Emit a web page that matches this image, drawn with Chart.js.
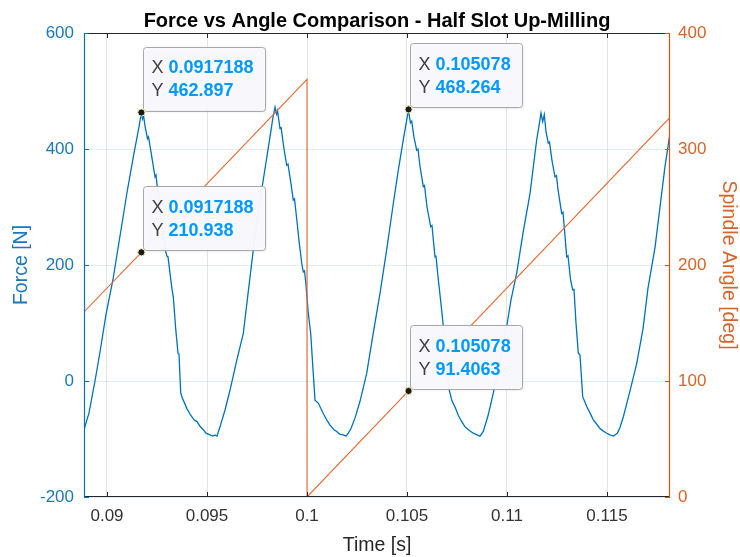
<!DOCTYPE html>
<html>
<head>
<meta charset="utf-8">
<script src="https://cdn.jsdelivr.net/npm/chart.js@4"></script>
<style>
  html, body { margin: 0; padding: 0; background: #ffffff; }
  #wrap { width: 740px; height: 557px; position: relative; }
</style>
</head>
<body>
<div id="wrap"><canvas id="c" width="740" height="557"></canvas></div>
<script>
// Cutting force sampled over time [s, N]
const timeS = [
  0.08885, 0.08910, 0.08940, 0.08965, 0.08995, 0.09030, 0.09065, 0.09100, 0.09135, 0.09160,
  0.0917188, 0.091775, 0.091825, 0.0919, 0.092025, 0.092075, 0.0922, 0.0924, 0.09245, 0.09265,
  0.092935, 0.093, 0.09305, 0.09325, 0.093315, 0.093435, 0.09355, 0.0936, 0.093685, 0.09375,
  0.09385, 0.094, 0.094185, 0.09435, 0.0945, 0.09465, 0.094815, 0.09495, 0.09515, 0.0953,
  0.0954, 0.0955, 0.09565, 0.0959, 0.09615, 0.09645, 0.096815, 0.09705, 0.097315, 0.09755,
  0.097815, 0.09815, 0.0983, 0.0984, 0.098475, 0.098525, 0.09865, 0.0987, 0.09885, 0.098985,
  0.09905, 0.0992, 0.099315, 0.099375, 0.0995, 0.099615, 0.09975, 0.099815, 0.099875, 0.09995,
  0.100065, 0.100185, 0.1003, 0.1004, 0.100565, 0.1007, 0.100815, 0.101, 0.10115, 0.10135,
  0.101485, 0.10165, 0.101815, 0.10195, 0.102065, 0.1022, 0.1024, 0.10265, 0.102985, 0.1033,
  0.10365, 0.104, 0.104315, 0.10455, 0.104815, 0.105078, 0.105125, 0.105175, 0.105235, 0.10535,
  0.105485, 0.10555, 0.10565, 0.105815, 0.105875, 0.106, 0.106185, 0.10625, 0.106325, 0.1064,
  0.10645, 0.10655, 0.106735, 0.106815, 0.1069, 0.107, 0.107115, 0.107235, 0.1074, 0.107565,
  0.1077, 0.1079, 0.1081, 0.108315, 0.1085, 0.10865, 0.108815, 0.10905, 0.109315, 0.10965,
  0.109985, 0.1102, 0.110485, 0.1108, 0.11115, 0.111485, 0.1116, 0.1117, 0.111785, 0.111865,
  0.11195, 0.112065, 0.112125, 0.11225, 0.1124, 0.112475, 0.11255, 0.112735, 0.1128, 0.1129,
  0.112985, 0.11305, 0.113175, 0.113285, 0.11335, 0.11345, 0.113565, 0.11365, 0.113785, 0.113985,
  0.11415, 0.114315, 0.1145, 0.11465, 0.1148, 0.114985, 0.11515, 0.115315, 0.115515, 0.11565,
  0.115815, 0.11615, 0.116485, 0.1168, 0.11705, 0.1174, 0.11765, 0.1179, 0.11815
];
const forceN = [
  -84, -55, 0, 50, 115, 175, 250, 325, 393, 438,
  462.897, 452, 458, 440, 418, 421, 395, 352, 355, 290,
  223, 215, 214, 158, 145, 90, 48, 46, -20, -28,
  -36, -48, -59, -67, -70, -78, -84, -90, -93, -95,
  -93, -95, -79, -50, -16, 30, 82, 150, 226, 290,
  347, 421, 455, 472, 460, 466, 435, 438, 400, 372,
  374, 340, 312, 314, 275, 237, 200, 188, 190, 165,
  117, 82, 20, -33, -38, -48, -56, -68, -76, -84,
  -87, -92, -93, -95, -90, -82, -64, -35, 13, 80,
  151, 230, 306, 360, 416, 468.264, 455, 445, 448, 420,
  398, 400, 370, 335, 337, 300, 266, 268, 240, 214,
  215, 180, 122, 94, 60, 20, -16, -33, -45, -59,
  -68, -79, -85, -90, -93, -95, -87, -60, -21, 35,
  94, 140, 186, 255, 323, 416, 440, 462, 447, 459,
  430, 410, 412, 380, 352, 354, 330, 289, 291, 250,
  214, 216, 175, 157, 158, 100, 48, 45, -27, -44,
  -55, -67, -75, -82, -86, -90, -93, -95, -90, -80,
  -62, -17, 30, 90, 160, 230, 300, 370, 427
];

// Spindle angle [s, deg] (ramps up, wraps at 360)
const angleTime = [0.08885, 0.0917188, 0.1, 0.1, 0.105078, 0.11815];
const angleDeg  = [159.5, 210.938, 360, 0, 91.4063, 327.3];

// Axis ticks
const xTicks = [0.09, 0.095, 0.1, 0.105, 0.11, 0.115];
const forceTicks = [-200, 0, 200, 400, 600];
const angleTicks = [0, 100, 200, 300, 400];

// Data tips: time, value, axis
const tipTime  = [0.0917188, 0.0917188, 0.105078, 0.105078];
const tipValue = [462.897, 210.938, 468.264, 91.4063];
const tipAxis  = ['y', 'y2', 'y', 'y2'];

const BLUE = '#0072BD';
const BLUE_TXT = '#1a7ab8';
const ORANGE = '#D95319';
const ORANGE_TXT = '#d8642a';
const DARK = '#262626';
const FONT = "'Liberation Sans', Arial, Helvetica, sans-serif";

const forceData = timeS.map((t, i) => ({ x: t, y: forceN[i] }));
const angleData = angleTime.map((t, i) => ({ x: t, y: angleDeg[i] }));

const frame = {
  id: 'frame',
  afterDraw(chart) {
    const ctx = chart.ctx, a = chart.chartArea;
    const sx = chart.scales.x, sy = chart.scales.y, sy2 = chart.scales.y2;
    const L = 5;
    ctx.save();
    ctx.lineWidth = 1;
    // top and bottom box edges
    ctx.strokeStyle = DARK;
    ctx.beginPath();
    ctx.moveTo(a.left, a.top + 0.5); ctx.lineTo(a.right, a.top + 0.5);
    ctx.moveTo(a.left, a.bottom - 0.5); ctx.lineTo(a.right, a.bottom - 0.5);
    // inward x ticks (top and bottom)
    xTicks.forEach(v => {
      const px = Math.round(sx.getPixelForValue(v)) + 0.5;
      ctx.moveTo(px, a.bottom); ctx.lineTo(px, a.bottom - L);
      ctx.moveTo(px, a.top); ctx.lineTo(px, a.top + L);
    });
    ctx.stroke();
    // left axis
    ctx.strokeStyle = BLUE;
    ctx.lineWidth = 1.2;
    ctx.beginPath();
    ctx.moveTo(a.left + 0.5, a.top); ctx.lineTo(a.left + 0.5, a.bottom);
    forceTicks.forEach(v => {
      const py = Math.round(sy.getPixelForValue(v)) + 0.5;
      ctx.moveTo(a.left, py); ctx.lineTo(a.left + L, py);
    });
    ctx.stroke();
    // right axis
    ctx.strokeStyle = ORANGE;
    ctx.beginPath();
    ctx.moveTo(a.right - 0.5, a.top); ctx.lineTo(a.right - 0.5, a.bottom);
    angleTicks.forEach(v => {
      const py = Math.round(sy2.getPixelForValue(v)) + 0.5;
      ctx.moveTo(a.right, py); ctx.lineTo(a.right - L, py);
    });
    ctx.stroke();

    // title
    ctx.fillStyle = '#000';
    ctx.font = 'bold 20px ' + FONT;
    ctx.textAlign = 'center';
    ctx.textBaseline = 'alphabetic';
    ctx.fillText('Force vs Angle Comparison - Half Slot Up-Milling', (a.left + a.right) / 2, 26.5);

    // data tips
    for (let i = 0; i < tipTime.length; i++) {
      const scaleY = chart.scales[tipAxis[i]];
      const px = sx.getPixelForValue(tipTime[i]);
      const py = scaleY.getPixelForValue(tipValue[i]);
      const xs = String(tipTime[i]);
      const ys = String(tipValue[i]);
      ctx.font = '18px ' + FONT;
      const wl = ctx.measureText('X ').width;
      const wy = ctx.measureText('Y ').width;
      ctx.font = 'bold 18px ' + FONT;
      const wv = Math.max(ctx.measureText(xs).width + wl, ctx.measureText(ys).width + wy);
      const bw = wv + 20, bh = 64;
      const bx = px + 1.5, by = py - 2 - bh;
      ctx.save();
      ctx.shadowColor = 'rgba(0,0,0,0.12)';
      ctx.shadowBlur = 3;
      ctx.shadowOffsetX = 1; ctx.shadowOffsetY = 1;
      ctx.fillStyle = 'rgba(249,249,253,0.97)';
      ctx.beginPath();
      ctx.roundRect(bx, by, bw, bh, 3);
      ctx.fill();
      ctx.restore();
      ctx.strokeStyle = '#a8a8a8';
      ctx.lineWidth = 1;
      ctx.beginPath();
      ctx.roundRect(Math.round(bx) + 0.5, Math.round(by) + 0.5, Math.round(bw), Math.round(bh), 3);
      ctx.stroke();
      ctx.textAlign = 'left';
      ctx.textBaseline = 'middle';
      const tx = bx + 8.5;
      ctx.font = '18px ' + FONT;
      ctx.fillStyle = '#404040';
      ctx.fillText('X', tx, by + 22);
      ctx.fillText('Y', tx, by + 45);
      ctx.font = 'bold 18px ' + FONT;
      ctx.fillStyle = '#0099FF';
      ctx.fillText(xs, tx + wl, by + 22);
      ctx.fillText(ys, tx + wy, by + 45);
      // marker
      ctx.beginPath();
      ctx.arc(px, py, 3.6, 0, Math.PI * 2);
      ctx.fillStyle = '#1a1a1a';
      ctx.fill();
      ctx.strokeStyle = '#f4f0b0';
      ctx.lineWidth = 1;
      ctx.stroke();
    }
    ctx.restore();
  }
};

new Chart(document.getElementById('c'), {
  type: 'scatter',
  data: {
    datasets: [
      {
        label: 'Force',
        data: forceData,
        yAxisID: 'y',
        showLine: true,
        borderColor: BLUE,
        borderWidth: 1.3,
        pointRadius: 0,
        tension: 0,
        order: 2
      },
      {
        label: 'Spindle Angle',
        data: angleData,
        yAxisID: 'y2',
        showLine: true,
        borderColor: '#e46a33',
        borderWidth: 1.1,
        pointRadius: 0,
        tension: 0,
        order: 1
      }
    ]
  },
  options: {
    responsive: false,
    animation: false,
    layout: { padding: { top: 33, left: 0, right: 0, bottom: 0 } },
    plugins: { legend: { display: false }, tooltip: { enabled: false }, title: { display: false } },
    scales: {
      x: {
        type: 'linear',
        position: 'bottom',
        min: 0.08885,
        max: 0.11815,
        afterBuildTicks: s => { s.ticks = xTicks.map(v => ({ value: v })); },
        afterFit: s => { s.height = 60; },
        grid: { color: '#e4e4e4', drawTicks: false, lineWidth: 1 },
        border: { display: false },
        ticks: {
          padding: 9,
          color: '#333333',
          font: { family: FONT, size: 17 },
          callback: v => String(v),
          maxRotation: 0,
          autoSkip: false
        },
        title: {
          display: true,
          text: 'Time [s]',
          color: DARK,
          font: { family: FONT, size: 19.5 },
          padding: { top: 0, bottom: 0 }
        }
      },
      y: {
        type: 'linear',
        position: 'left',
        min: -200,
        max: 600,
        afterBuildTicks: s => { s.ticks = forceTicks.map(v => ({ value: v })); },
        afterFit: s => { s.width = 84; },
        grid: { color: 'rgba(0,114,189,0.13)', drawTicks: false, lineWidth: 1 },
        border: { display: false },
        ticks: {
          padding: 10,
          color: BLUE_TXT,
          font: { family: FONT, size: 17 },
          callback: v => String(v)
        },
        title: {
          display: true,
          text: 'Force [N]',
          color: BLUE_TXT,
          font: { family: FONT, size: 19.5 },
          padding: { top: 10, bottom: 0 }
        }
      },
      y2: {
        type: 'linear',
        position: 'right',
        min: 0,
        max: 400,
        afterBuildTicks: s => { s.ticks = angleTicks.map(v => ({ value: v })); },
        afterFit: s => { s.width = 70; },
        grid: { display: false, drawTicks: false },
        border: { display: false },
        ticks: {
          padding: 8,
          color: ORANGE_TXT,
          font: { family: FONT, size: 17 },
          callback: v => String(v)
        },
        title: {
          display: true,
          text: 'Spindle Angle [deg]',
          color: ORANGE_TXT,
          font: { family: FONT, size: 19.5 },
          padding: { top: 0, bottom: 0 }
        }
      }
    }
  },
  plugins: [frame]
});
</script>
</body>
</html>
